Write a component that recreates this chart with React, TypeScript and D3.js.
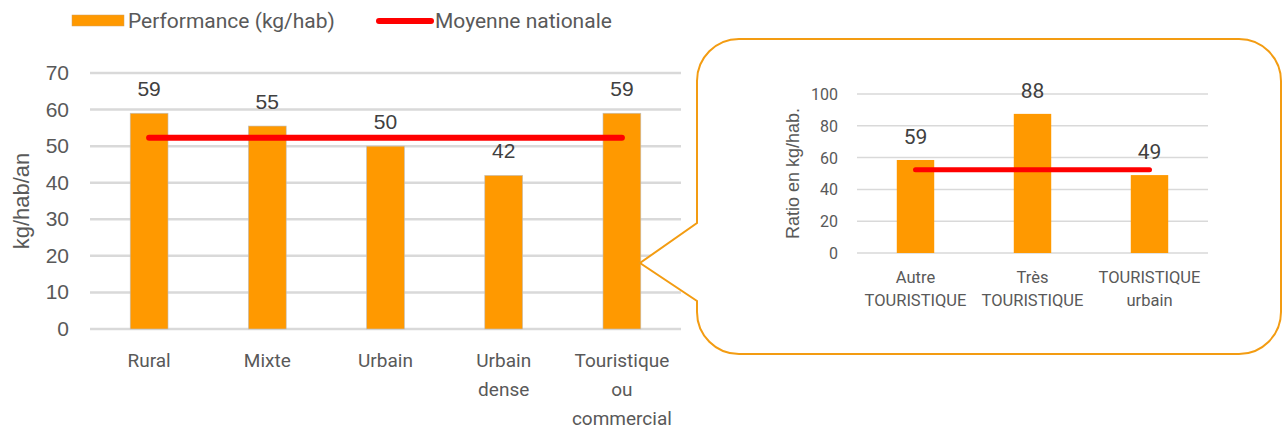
import * as d3 from "d3";

const mainCategories = [["Rural"], ["Mixte"], ["Urbain"], ["Urbain", "dense"], ["Touristique", "ou", "commercial"]];
const mainValues = [59, 55.5, 50, 42, 59];
const mainLabels = ["59", "55", "50", "42", "59"];
const mainTicks = [0, 10, 20, 30, 40, 50, 60, 70];
const nationalMean = 52.3;

const zoomCategories = [["Autre", "TOURISTIQUE"], ["Très", "TOURISTIQUE"], ["TOURISTIQUE", "urbain"]];
const zoomValues = [58.5, 87.5, 49];
const zoomLabels = ["59", "88", "49"];
const zoomTicks = [0, 20, 40, 60, 80, 100];

const ORANGE = "#FF9900";
const RED = "#FF0000";
const GRID = "#D9D9D9";
const NARROW = "'Liberation Sans Narrow', 'Roboto', sans-serif";
const SANS = "'Liberation Sans', Arial, sans-serif";
const UI = "Roboto, sans-serif";

export default function App() {
  const W = 1288;
  const H = 430;

  // main chart
  const mx = d3
    .scaleBand<number>()
    .domain(d3.range(mainValues.length))
    .range([90, 681])
    .paddingInner(0.68)
    .paddingOuter(0.34);
  const my = d3.scaleLinear().domain([0, 70]).range([329, 73]);

  // zoomed chart
  const zx = d3
    .scaleBand<number>()
    .domain(d3.range(zoomValues.length))
    .range([857, 1208])
    .paddingInner(0.68)
    .paddingOuter(0.34);
  const zy = d3.scaleLinear().domain([0, 100]).range([253, 94]);

  const mCenter = (i: number) => (mx(i) as number) + mx.bandwidth() / 2;
  const zCenter = (i: number) => (zx(i) as number) + zx.bandwidth() / 2;

  const calloutPath = (() => {
    const l = 697, t = 39, r = 1281, b = 354, rad = 42;
    const p = d3.path();
    p.moveTo(l + rad, t);
    p.lineTo(r - rad, t);
    p.arcTo(r, t, r, t + rad, rad);
    p.lineTo(r, b - rad);
    p.arcTo(r, b, r - rad, b, rad);
    p.lineTo(l + rad, b);
    p.arcTo(l, b, l, b - rad, rad);
    p.lineTo(l, 301);
    p.lineTo(640, 263);
    p.lineTo(l, 223);
    p.lineTo(l, t + rad);
    p.arcTo(l, t, l + rad, t, rad);
    p.closePath();
    return p.toString();
  })();

  return (
    <svg width={W} height={H} style={{ position: "absolute", left: 0, top: 0 }}>
      <rect width={W} height={H} fill="#fff" />

      {/* legend */}
      <rect x={72} y={15} width={52} height={11} fill={ORANGE} stroke="#D0A060" strokeWidth={0.5} />
      <text x={128} y={28} fontFamily={UI} fontSize={21} fill="#595959">
        Performance (kg/hab)
      </text>
      <line x1={379} x2={431} y1={21} y2={21} stroke={RED} strokeWidth={6} strokeLinecap="round" />
      <text x={435} y={28} fontFamily={UI} fontSize={21} fill="#595959">
        Moyenne nationale
      </text>

      {/* main grid */}
      {mainTicks.map((t) => (
        <g key={t}>
          <line x1={90} x2={681} y1={my(t)} y2={my(t)} stroke={GRID} strokeWidth={2.5} />
          <text x={69} y={my(t) + 7} textAnchor="end" fontFamily={SANS} fontSize={21} fill="#595959">
            {t}
          </text>
        </g>
      ))}
      <text
        transform={`translate(29, ${my(35)}) rotate(-90)`}
        textAnchor="middle"
        fontFamily={SANS}
        fontSize={22}
        fill="#595959"
      >
        kg/hab/an
      </text>

      {mainValues.map((v, i) => (
        <g key={i}>
          <rect
            x={mx(i)}
            y={my(v)}
            width={mx.bandwidth()}
            height={my(0) - my(v)}
            fill={ORANGE}
            stroke="#BFBFBF"
            strokeWidth={0.6}
          />
          <text x={mCenter(i)} y={my(v) - 17} textAnchor="middle" fontFamily={SANS} fontSize={21} fill="#404040">
            {mainLabels[i]}
          </text>
          {mainCategories[i].map((line, k) => (
            <text
              key={k}
              x={mCenter(i)}
              y={367 + k * 29}
              textAnchor="middle"
              fontFamily={UI}
              fontSize={19}
              fill="#595959"
            >
              {line}
            </text>
          ))}
        </g>
      ))}
      <line
        x1={mCenter(0)}
        x2={mCenter(mainValues.length - 1)}
        y1={my(nationalMean)}
        y2={my(nationalMean)}
        stroke={RED}
        strokeWidth={6}
        strokeLinecap="round"
      />

      {/* callout */}
      <path d={calloutPath} fill="#fff" stroke="#F39C12" strokeWidth={2} />

      {zoomTicks.map((t) => (
        <g key={t}>
          <line x1={857} x2={1208} y1={zy(t)} y2={zy(t)} stroke={GRID} strokeWidth={1.5} />
          <text x={838} y={zy(t) + 6} textAnchor="end" fontFamily={NARROW} fontSize={16} fill="#595959">
            {t}
          </text>
        </g>
      ))}
      <text
        transform={`translate(799, ${zy(50)}) rotate(-90)`}
        textAnchor="middle"
        fontFamily={SANS}
        fontSize={18}
        fill="#595959"
      >
        Ratio en kg/hab.
      </text>

      {zoomValues.map((v, i) => (
        <g key={i}>
          <rect x={zx(i)} y={zy(v)} width={zx.bandwidth()} height={zy(0) - zy(v)} fill={ORANGE} />
          <text x={zCenter(i)} y={zy(v) - 16} textAnchor="middle" fontFamily={NARROW} fontSize={21} fill="#404040">
            {zoomLabels[i]}
          </text>
          {zoomCategories[i].map((line, k) => (
            <text
              key={k}
              x={zCenter(i)}
              y={283 + k * 22.5}
              textAnchor="middle"
              fontFamily={NARROW}
              fontSize={16.5}
              fill="#595959"
            >
              {line}
            </text>
          ))}
        </g>
      ))}
      <line
        x1={zCenter(0)}
        x2={zCenter(zoomValues.length - 1)}
        y1={zy(nationalMean)}
        y2={zy(nationalMean)}
        stroke={RED}
        strokeWidth={5}
        strokeLinecap="round"
      />
    </svg>
  );
}
